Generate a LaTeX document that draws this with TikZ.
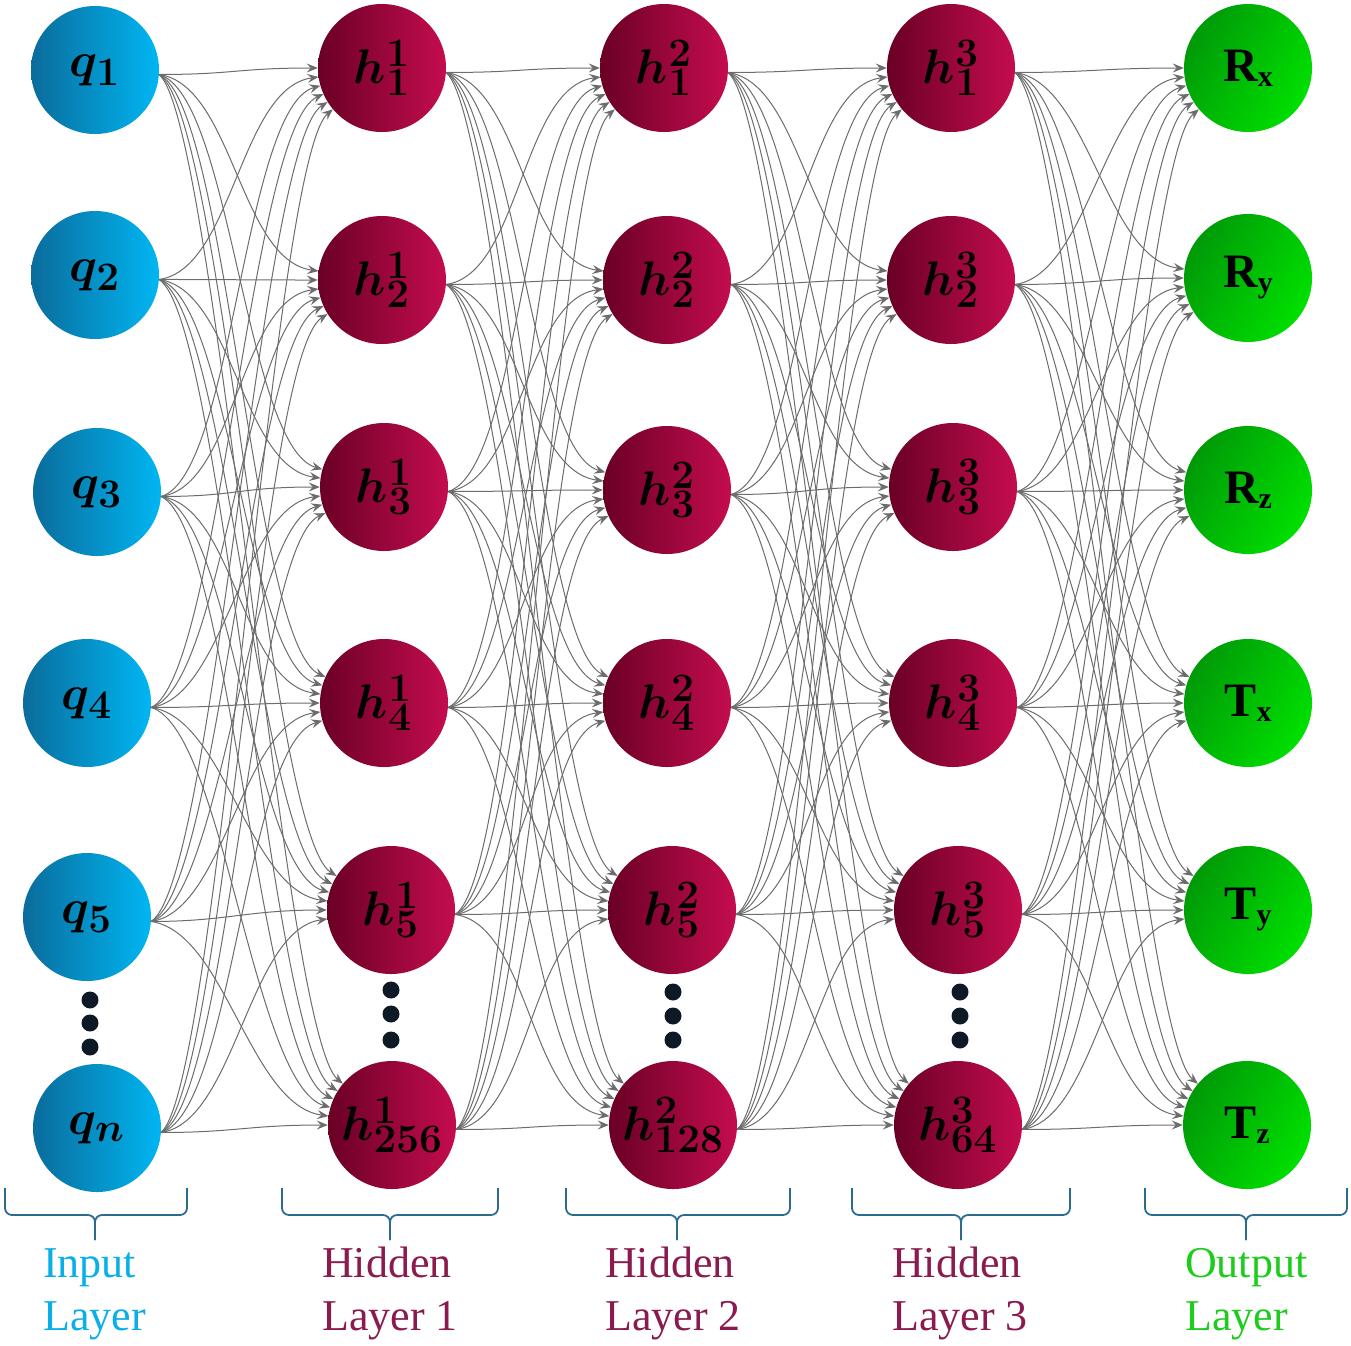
\documentclass[tikz,border=0pt]{standalone}
\usepackage{bm}
\usepackage{graphicx}
\usepackage{fontspec}
\newfontfamily\lblfont{Liberation Serif}
\usetikzlibrary{arrows.meta}
\definecolor{bluedark}{HTML}{0A6C9C}
\definecolor{bluelight}{HTML}{00B6F2}
\definecolor{reddark}{HTML}{6A0026}
\definecolor{redlight}{HTML}{C40C4E}
\definecolor{greendark}{HTML}{009A08}
\definecolor{greenlight}{HTML}{00E000}
\definecolor{edgegray}{HTML}{6C6C6C}
\definecolor{dotcol}{HTML}{0D1A26}
\definecolor{bracecol}{HTML}{2A6B8F}
\definecolor{inlbl}{HTML}{0AAFE8}
\definecolor{hidlbl}{HTML}{8B1A4E}
\definecolor{outlbl}{HTML}{1ECC1E}
\newcommand{\mth}[1]{\scalebox{1.95}{\Huge$\bm{#1}$}}
\newcommand{\outtxt}[2]{{\lblfont\bfseries\fontsize{48}{50}\selectfont #1\raisebox{-5pt}{\fontsize{30}{30}\selectfont #2}}}
\begin{document}
\begin{tikzpicture}[x=1pt,y=-1pt,
 neuron/.style={circle,minimum size=128pt,inner sep=0pt},
 inp/.style={neuron,left color=bluedark,right color=bluelight},
 hid/.style={neuron,left color=reddark,right color=redlight},
 outn/.style={neuron,left color=greendark,right color=greenlight,shading angle=60},
 edge/.style={draw=edgegray,line width=1pt,-{Stealth[length=11pt,width=9pt,inset=4pt]}},
 dotn/.style={circle,fill=dotcol,minimum size=17pt,inner sep=0pt},
 brace/.style={draw=bracecol,line width=1.8pt,rounded corners=7pt},
 lbl/.style={font=\lblfont\fontsize{44}{50}\selectfont,anchor=base west,inner sep=0pt}]
\useasboundingbox (0,0) rectangle (1351,1345);

% input layer
\node[inp] (i1) at (95,70)   {\mth{q_{1}}};
\node[inp] (i2) at (95,275)  {\mth{q_{2}}};
\node[inp] (i3) at (97,492)  {\mth{q_{3}}};
\node[inp] (i4) at (87,703)  {\mth{q_{4}}};
\node[inp] (i5) at (87,917)  {\mth{q_{5}}};
\node[inp] (i6) at (97,1128) {\mth{q_{n}}};
% hidden 1
\node[hid] (a1) at (382,68)   {\mth{h^{1}_{1}}};
\node[hid] (a2) at (382,280)  {\mth{h^{1}_{2}}};
\node[hid] (a3) at (384,487)  {\mth{h^{1}_{3}}};
\node[hid] (a4) at (384,703)  {\mth{h^{1}_{4}}};
\node[hid] (a5) at (391,910)  {\mth{h^{1}_{5}}};
\node[hid] (a6) at (392,1125) {\mth{h^{1}_{256}}};
% hidden 2
\node[hid] (b1) at (664,68)   {\mth{h^{2}_{1}}};
\node[hid] (b2) at (667,280)  {\mth{h^{2}_{2}}};
\node[hid] (b3) at (667,490)  {\mth{h^{2}_{3}}};
\node[hid] (b4) at (667,703)  {\mth{h^{2}_{4}}};
\node[hid] (b5) at (672,910)  {\mth{h^{2}_{5}}};
\node[hid] (b6) at (673,1125) {\mth{h^{2}_{128}}};
% hidden 3
\node[hid] (c1) at (951,68)   {\mth{h^{3}_{1}}};
\node[hid] (c2) at (951,280)  {\mth{h^{3}_{2}}};
\node[hid] (c3) at (953,487)  {\mth{h^{3}_{3}}};
\node[hid] (c4) at (953,703)  {\mth{h^{3}_{4}}};
\node[hid] (c5) at (958,910)  {\mth{h^{3}_{5}}};
\node[hid] (c6) at (958,1125) {\mth{h^{3}_{64}}};
% output
\node[outn] (o1) at (1248,68)   {\outtxt{R}{x}};
\node[outn] (o2) at (1248,278)  {\outtxt{R}{y}};
\node[outn] (o3) at (1248,490)  {\outtxt{R}{z}};
\node[outn] (o4) at (1248,703)  {\outtxt{T}{x}};
\node[outn] (o5) at (1248,910)  {\outtxt{T}{y}};
\node[outn] (o6) at (1247,1125) {\outtxt{T}{z}};

% connections
\foreach \S/\T in {i/a,a/b,b/c,c/o}{
 \foreach \s in {1,...,6}{
  \foreach \t in {1,...,6}{
   \pgfmathtruncatemacro\ang{180+8*(\s-\t)}
   \pgfmathtruncatemacro\oang{-8*(\t-\s)}
   \draw[edge] (\S\s.-4) .. controls +(\oang:75pt) and +(\ang:80pt) .. (\T\t.\ang);
 }}}

% dots
\foreach \n/\x/\y in {p1/90/1000,p2/90/1023,p3/90/1047,
  q1/391/990,q2/391/1014,q3/391/1040,
  r1/673/992,r2/673/1016,r3/673/1040,
  s1/960/992,s2/960/1016,s3/960/1040}
  \node[dotn] (\n) at (\x,\y) {};

% braces
\foreach \xa/\xb/\xc in {5/187/95,282/498/390,566/790/677,852/1070/961,1145/1347/1246}{
  \draw[brace] (\xa,1188) -- (\xa,1215) -- (\xc,1215) -- (\xc,1240);
  \draw[brace] (\xb,1188) -- (\xb,1215) -- (\xc,1215) -- (\xc,1240);
}

% labels
\node[lbl,text=inlbl] (l1a) at (43,1277) {Input};
\node[lbl,text=inlbl] (l1b) at (43,1330) {Layer};
\node[lbl,text=hidlbl] (l2a) at (322,1277) {Hidden};
\node[lbl,text=hidlbl] (l2b) at (322,1330) {Layer 1};
\node[lbl,text=hidlbl] (l3a) at (605,1277) {Hidden};
\node[lbl,text=hidlbl] (l3b) at (605,1330) {Layer 2};
\node[lbl,text=hidlbl] (l4a) at (892,1277) {Hidden};
\node[lbl,text=hidlbl] (l4b) at (892,1330) {Layer 3};
\node[lbl,text=outlbl] (l5a) at (1185,1277) {Output};
\node[lbl,text=outlbl] (l5b) at (1185,1330) {Layer};
\end{tikzpicture}
\end{document}
